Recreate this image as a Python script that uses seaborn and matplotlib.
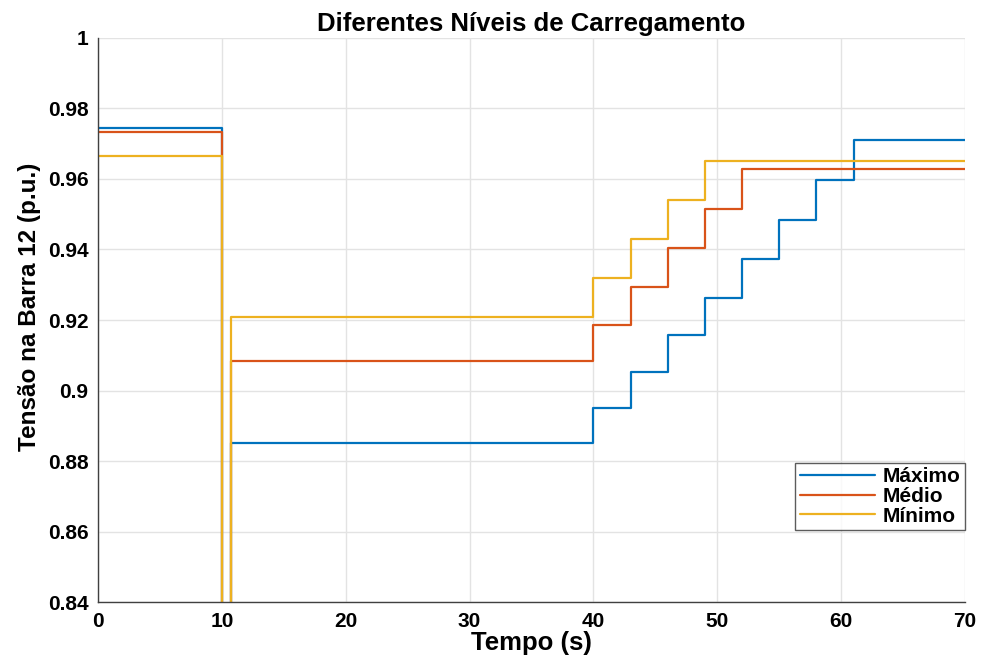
import numpy as np
import pandas as pd
import matplotlib
matplotlib.use("Agg")
import matplotlib.pyplot as plt
import seaborn as sns

# Data (step-post: value holds from t until next t)
t_max = [0, 10, 10.75, 40, 43, 46, 49, 52, 55, 58, 61, 70]
v_max = [0.9745, 0.50, 0.8851, 0.8951, 0.9053, 0.9157, 0.9262, 0.9372, 0.9484, 0.9597, 0.9711, 0.9711]
t_med = [0, 10, 10.75, 40, 43, 46, 49, 52, 70]
v_med = [0.9733, 0.50, 0.9085, 0.9186, 0.9294, 0.9403, 0.9515, 0.9627, 0.9627]
t_min = [0, 10, 10.75, 40, 43, 46, 49, 70]
v_min = [0.9665, 0.50, 0.9209, 0.9318, 0.9429, 0.9540, 0.9652, 0.9652]
series_names = ["Máximo", "Médio", "Mínimo"]
colors = ["#0072BD", "#D95319", "#EDB120"]
x_ticks = [0, 10, 20, 30, 40, 50, 60, 70]
y_ticks = [0.84, 0.86, 0.88, 0.90, 0.92, 0.94, 0.96, 0.98, 1.0]
y_tick_labels = ["0.84", "0.86", "0.88", "0.9", "0.92", "0.94", "0.96", "0.98", "1"]

df = pd.concat([
    pd.DataFrame({"t": t_max, "v": v_max, "s": series_names[0]}),
    pd.DataFrame({"t": t_med, "v": v_med, "s": series_names[1]}),
    pd.DataFrame({"t": t_min, "v": v_min, "s": series_names[2]}),
], ignore_index=True)

sns.set_style("white")
plt.rcParams["font.family"] = ["Liberation Sans", "DejaVu Sans"]
plt.rcParams["text.color"] = "black"
plt.rcParams["axes.labelcolor"] = "black"
plt.rcParams["xtick.color"] = "black"
plt.rcParams["ytick.color"] = "black"

fig = plt.figure(figsize=(9.81, 6.55), dpi=100)
ax = fig.add_axes([0.0999, 0.0809, 0.8838, 0.8611])

sns.lineplot(data=df, x="t", y="v", hue="s", palette=colors, hue_order=series_names,
             estimator=None, sort=False, drawstyle="steps-post", linewidth=1.6, ax=ax)

ax.set_xlim(0, 70)
ax.set_ylim(0.84, 1.0)
ax.set_xticks(x_ticks)
ax.set_yticks(y_ticks)
ax.set_yticklabels(y_tick_labels)
ax.grid(True, color="#e3e3e3", linewidth=1.0)
ax.set_axisbelow(True)
for side in ["top", "right"]:
    ax.spines[side].set_visible(False)
for side in ["left", "bottom"]:
    ax.spines[side].set_color("#404040")
    ax.spines[side].set_linewidth(1.0)
ax.tick_params(direction="in", length=6, width=1, labelsize=15, pad=7,
               colors="black")
ax.tick_params(color="#404040")
for lab in ax.get_xticklabels() + ax.get_yticklabels():
    lab.set_fontweight("bold")

ax.set_xlabel("Tempo (s)", fontsize=18.5, fontweight="bold", labelpad=0)
ax.set_ylabel("Tensão na Barra 12 (p.u.)", fontsize=17.5, fontweight="bold")
ax.yaxis.set_label_coords(-0.066, 0.523)
ax.set_title("Diferentes Níveis de Carregamento", fontsize=18.5, fontweight="bold", pad=5)

leg = ax.legend(loc="lower right", bbox_to_anchor=(1.0, 0.128), frameon=True, fancybox=False,
                prop={"weight": "bold", "size": 15}, handlelength=3.6, borderpad=0.2,
                labelspacing=0.03, handletextpad=0.4, borderaxespad=0)
leg.get_frame().set_edgecolor("#333333")
leg.get_frame().set_linewidth(1.0)

fig.savefig("out.png", dpi=100)
